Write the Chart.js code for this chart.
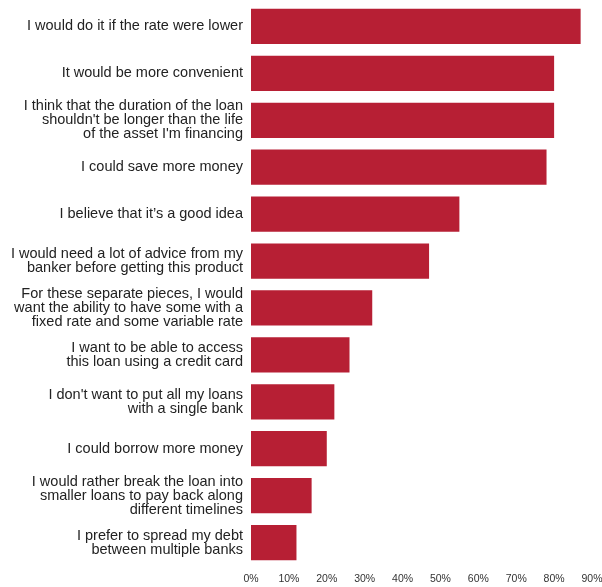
<!DOCTYPE html>
<html lang="en">
<head>
  <meta charset="UTF-8">
  <title>Loan attitudes</title>
  <script src="https://cdn.jsdelivr.net/npm/chart.js"></script>
  <style>
    html, body { margin: 0; padding: 0; background: #fff; }
    .wrap { width: 602px; height: 587px; }
  </style>
</head>
<body>
  <div class="wrap"><canvas id="chart"></canvas></div>

  <script>
    const statements = [
      "I would do it if the rate were lower",
      "It would be more convenient",
      ["I think that the duration of the loan", "shouldn't be longer than the life", "of the asset I'm financing"],
      "I could save more money",
      "I believe that it\u2019s a good idea",
      ["I would need a lot of advice from my", "banker before getting this product"],
      ["For these separate pieces, I would", "want the ability to have some with a", "fixed rate and some variable rate"],
      ["I want to be able to access", "this loan using a credit card"],
      ["I don't want to put all my loans", "with a single bank"],
      "I could borrow more money",
      ["I would rather break the loan into", "smaller loans to pay back along", "different timelines"],
      ["I prefer to spread my debt", "between multiple banks"]
    ];
    const shares = [87, 80, 80, 78, 55, 47, 32, 26, 22, 20, 16, 12];
    const xTicks = [0, 10, 20, 30, 40, 50, 60, 70, 80, 90];

    new Chart(document.getElementById('chart'), {
      type: 'bar',
      data: {
        labels: statements,
        datasets: [{
          data: shares,
          backgroundColor: '#b71f34',
          barPercentage: 0.75,
          categoryPercentage: 1
        }]
      },
      options: {
        indexAxis: 'y',
        responsive: true,
        maintainAspectRatio: false,
        animation: false,
        layout: { padding: { top: 3, right: 0, left: 0, bottom: 0 } },
        plugins: { legend: { display: false }, tooltip: { enabled: false } },
        scales: {
          x: {
            min: 0,
            max: 90,
            afterBuildTicks: axis => { axis.ticks = xTicks.map(v => ({ value: v })); },
            afterFit: axis => {
              axis.height = 21;
              axis.paddingLeft = 0;
              axis.paddingRight = 10;
            },
            grid: { display: false, drawTicks: false },
            border: { display: false },
            ticks: {
              color: '#333',
              padding: 7,
              maxRotation: 0,
              autoSkip: false,
              font: { family: 'Liberation Sans, Arial, sans-serif', size: 10.5 },
              callback: v => v + '%'
            }
          },
          y: {
            grid: { display: false, drawTicks: false },
            border: { display: false },
            afterFit: axis => {
              axis.width = 251;
              axis.paddingTop = 0;
              axis.paddingBottom = 0;
            },
            ticks: {
              color: '#222',
              padding: 8,
              autoSkip: false,
              font: { family: 'Liberation Sans, Arial, sans-serif', size: 14.5, lineHeight: '14px' }
            }
          }
        }
      }
    });
  </script>
</body>
</html>
